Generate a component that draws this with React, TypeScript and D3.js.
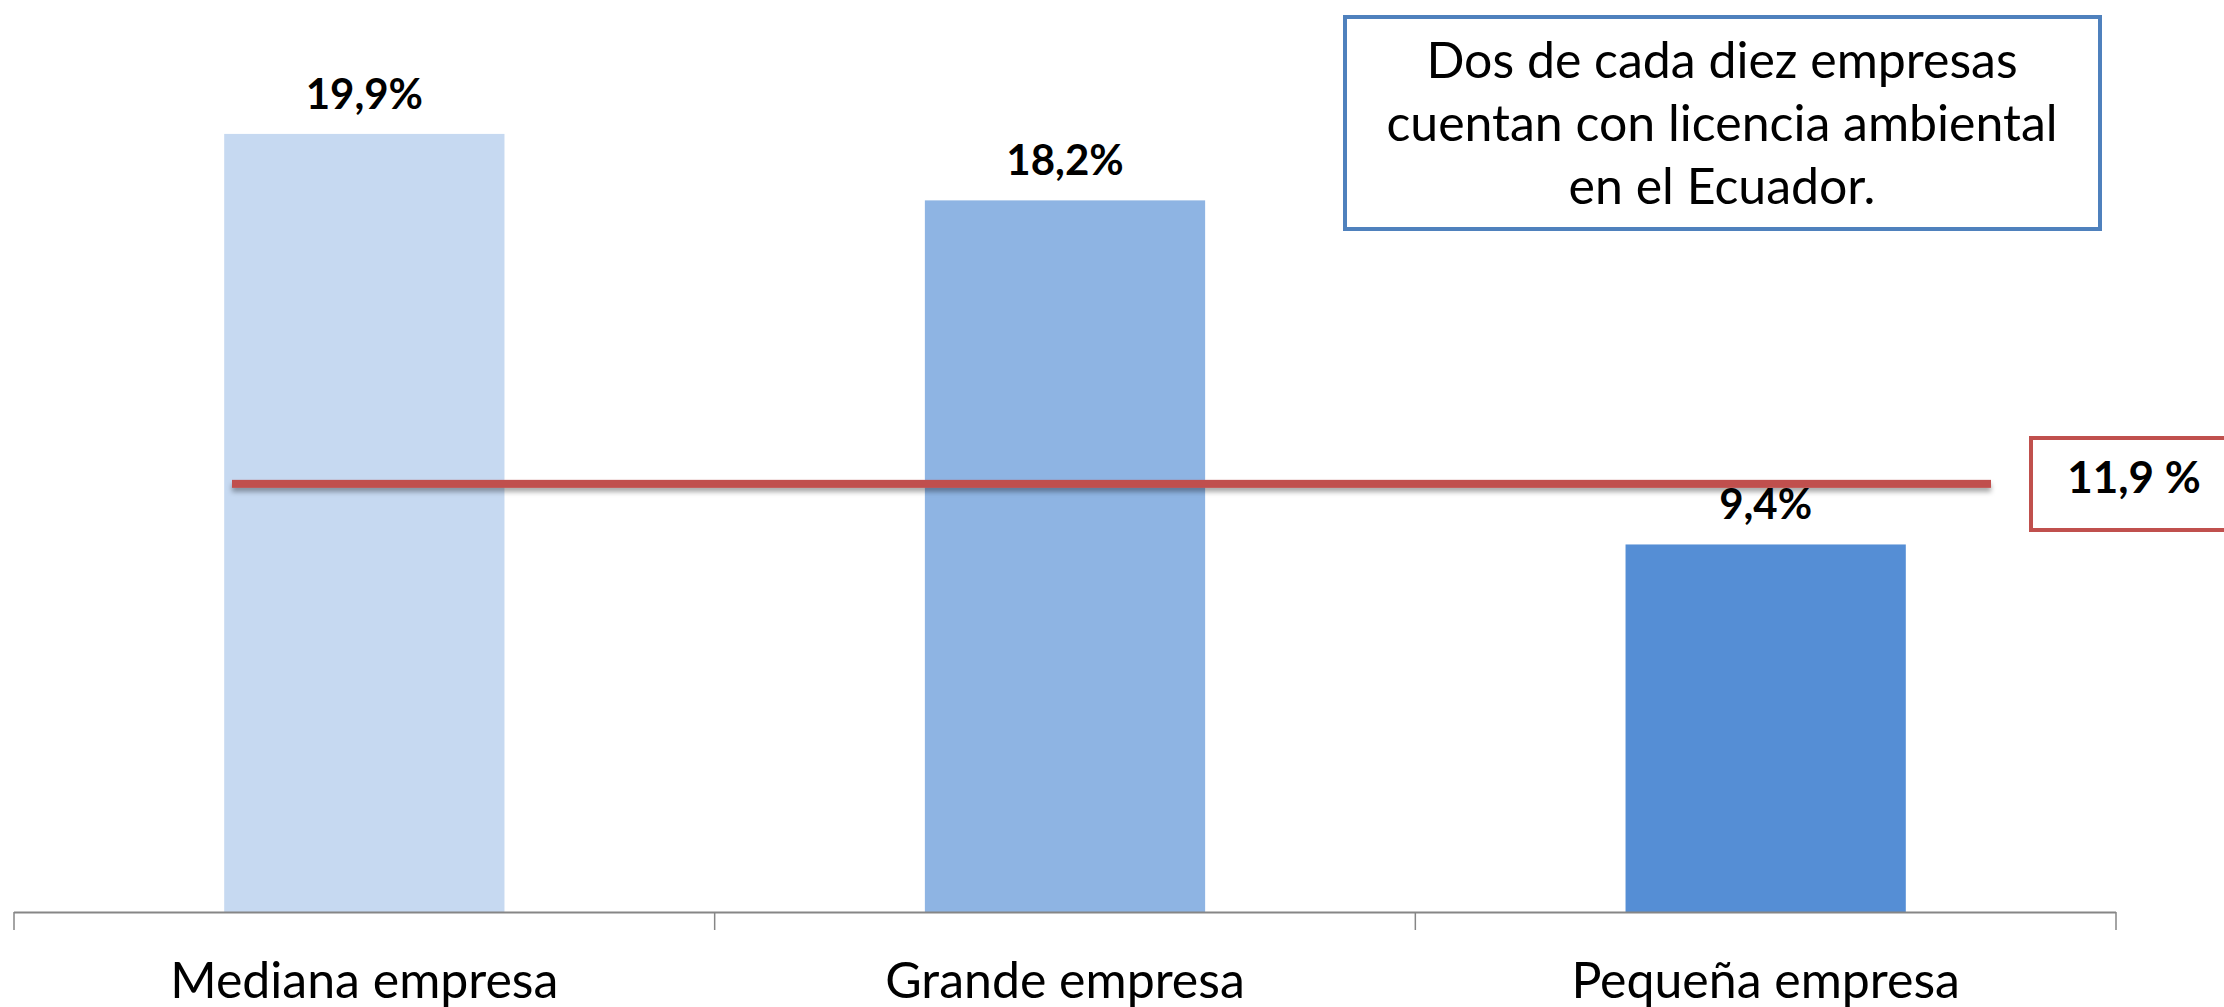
import * as d3 from "d3";
import { useRef, useEffect } from "react";

// values
const categories = ["Mediana empresa", "Grande empresa", "Pequeña empresa"];
const values = [19.9, 18.2, 9.4];
const valueLabels = ["19,9%", "18,2%", "9,4%"];
const barColors = ["#C6D9F1", "#8EB4E3", "#558ED5"];
const averageLabel = "11,9 %";
const averageLineLevel = 10.95; // where the red line sits in the picture
const noteLines = [
  "Dos de cada diez empresas",
  "cuentan con licencia ambiental",
  "en el Ecuador.",
];

const FONT = "Lato, 'Open Sans', sans-serif";

export default function App() {
  const svgRef = useRef(null);

  useEffect(() => {
    const width = 2224;
    const height = 1007;

    const svg = d3.select(svgRef.current);
    svg.selectAll("*").remove();
    svg.attr("width", width).attr("height", height);

    const x = d3
      .scaleBand()
      .domain(categories)
      .range([14, 2116])
      .paddingInner(0.6)
      .paddingOuter(0.3);

    const y = d3.scaleLinear().domain([0, 20]).range([912, 130]);

    const defs = svg.append("defs");
    const shadow = defs
      .append("filter")
      .attr("id", "lineShadow")
      .attr("filterUnits", "userSpaceOnUse")
      .attr("x", 0)
      .attr("y", 0)
      .attr("width", width)
      .attr("height", height);
    shadow
      .append("feDropShadow")
      .attr("dx", 0)
      .attr("dy", 4)
      .attr("stdDeviation", 2.5)
      .attr("flood-color", "#000")
      .attr("flood-opacity", 0.35);

    // bars
    svg
      .append("g")
      .selectAll("rect")
      .data(values)
      .enter()
      .append("rect")
      .attr("x", (d, i) => x(categories[i]))
      .attr("y", (d) => y(d))
      .attr("width", x.bandwidth())
      .attr("height", (d) => y(0) - y(d))
      .attr("fill", (d, i) => barColors[i]);

    // value labels
    svg
      .append("g")
      .selectAll("text")
      .data(values)
      .enter()
      .append("text")
      .attr("x", (d, i) => x(categories[i]) + x.bandwidth() / 2)
      .attr("y", (d) => y(d) - 25)
      .attr("text-anchor", "middle")
      .attr("font-family", FONT)
      .attr("font-weight", "bold")
      .attr("font-size", 42)
      .attr("fill", "#000")
      .text((d, i) => valueLabels[i]);

    // category axis
    const axisG = svg.append("g");
    axisG
      .append("line")
      .attr("x1", 14)
      .attr("x2", 2116)
      .attr("y1", y(0) + 0.5)
      .attr("y2", y(0) + 0.5)
      .attr("stroke", "#868686")
      .attr("stroke-width", 2);

    const step = x.step();
    const tickXs = d3.range(categories.length + 1).map((i) => 14 + i * step);
    axisG
      .selectAll("line.tick")
      .data(tickXs)
      .enter()
      .append("line")
      .attr("class", "tick")
      .attr("x1", (d) => d)
      .attr("x2", (d) => d)
      .attr("y1", y(0))
      .attr("y2", y(0) + 18)
      .attr("stroke", "#868686")
      .attr("stroke-width", 1.5);

    axisG
      .selectAll("text")
      .data(categories)
      .enter()
      .append("text")
      .attr("x", (d) => x(d) + x.bandwidth() / 2)
      .attr("y", 998)
      .attr("text-anchor", "middle")
      .attr("font-family", FONT)
      .attr("font-size", 50)
      .attr("fill", "#000")
      .text((d) => d);

    // average line
    const lineY = y(averageLineLevel);
    svg
      .append("rect")
      .attr("x", 232)
      .attr("y", lineY - 4)
      .attr("width", 1991 - 232)
      .attr("height", 8)
      .attr("fill", "#C0504D")
      .attr("filter", "url(#lineShadow)");

    // average label box
    svg
      .append("rect")
      .attr("x", 2031)
      .attr("y", 438)
      .attr("width", 240)
      .attr("height", 92)
      .attr("fill", "#fff")
      .attr("stroke", "#C0504D")
      .attr("stroke-width", 4);

    svg
      .append("text")
      .attr("x", 2134)
      .attr("y", 493)
      .attr("text-anchor", "middle")
      .attr("font-family", FONT)
      .attr("font-weight", "bold")
      .attr("font-size", 44)
      .attr("fill", "#000")
      .text(averageLabel);

    // note box
    svg
      .append("rect")
      .attr("x", 1345)
      .attr("y", 17)
      .attr("width", 755)
      .attr("height", 212)
      .attr("fill", "#fff")
      .attr("stroke", "#4F81BD")
      .attr("stroke-width", 4);

    svg
      .append("g")
      .selectAll("text")
      .data(noteLines)
      .enter()
      .append("text")
      .attr("x", 1722)
      .attr("y", (d, i) => 78 + i * 63)
      .attr("text-anchor", "middle")
      .attr("font-family", FONT)
      .attr("font-size", 50)
      .attr("fill", "#000")
      .text((d) => d);
  }, []);

  return (
    <div style={{ position: "fixed", left: 0, top: 0, background: "#fff" }}>
      <svg ref={svgRef} style={{ display: "block" }}></svg>
    </div>
  );
}
